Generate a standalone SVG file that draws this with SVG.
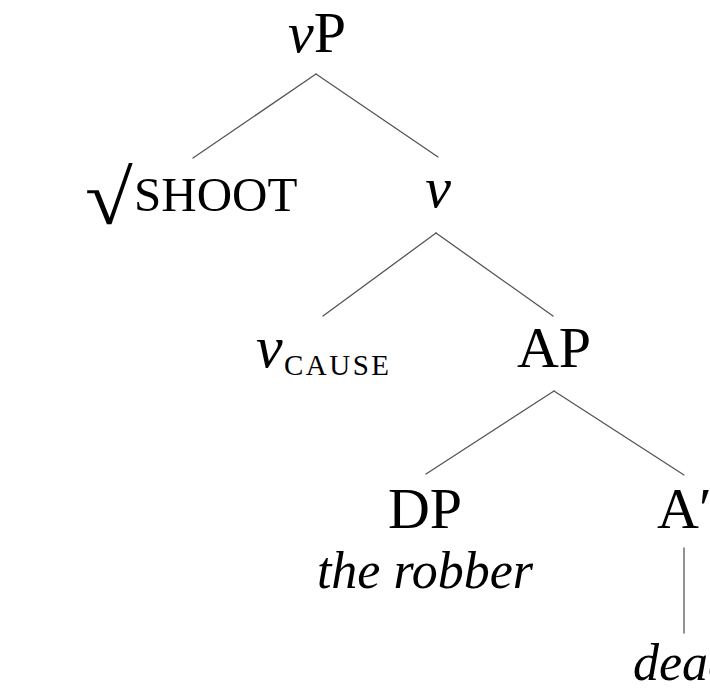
<svg xmlns="http://www.w3.org/2000/svg" width="710" height="690" viewBox="0 0 710 690">
  <style>
    text { font-family: "Liberation Serif", "DejaVu Serif", serif; fill: #000; }
    .lbl { font-size: 58px; text-anchor: middle; }
    .it { font-style: italic; }
    .sc { font-size: 49px; }
    .sub { font-size: 29px; letter-spacing: 2.5px; }
    .word { font-size: 52px; font-style: italic; }
    .edge { stroke: #555; stroke-width: 1.3; fill: none; stroke-linecap: round; }
  </style>

  <!-- tree branches -->
  <g id="connectors">
    <line class="edge" x1="316" y1="74" x2="193" y2="158"/>
    <line class="edge" x1="316" y1="74" x2="438" y2="157"/>
    <line class="edge" x1="436" y1="233" x2="323" y2="316"/>
    <line class="edge" x1="436" y1="233" x2="553" y2="316"/>
    <line class="edge" x1="554" y1="391" x2="426" y2="474"/>
    <line class="edge" x1="554" y1="391" x2="684" y2="475"/>
    <line class="edge" x1="684" y1="548" x2="684" y2="633"/>
  </g>

  <g id="vP">
    <text class="lbl" x="317" y="52"><tspan class="it">v</tspan>P</text>
  </g>

  <g id="root">
    <!-- radical sign, stretched to the height of the label -->
    <text transform="translate(85,224) scale(1.45,1.28)" style="font-size:60px">√</text>
    <text class="sc" x="134" y="211">SHOOT</text>
  </g>

  <g id="v">
    <text class="lbl it" x="438" y="207">v</text>
  </g>

  <g id="vcause">
    <text x="256" y="367" style="font-size:60px" class="it">v</text>
    <text class="sub" x="284" y="375">CAUSE</text>
  </g>

  <g id="AP">
    <text class="lbl" x="554" y="367">AP</text>
  </g>

  <g id="DP">
    <text class="lbl" x="425" y="528">DP</text>
    <text class="word" x="425" y="588" text-anchor="middle">the robber</text>
  </g>

  <g id="Abar">
    <text x="657" y="528" style="font-size:58px">A′</text>
  </g>

  <g id="dead">
    <text class="word" x="633" y="680">dead</text>
  </g>
</svg>
